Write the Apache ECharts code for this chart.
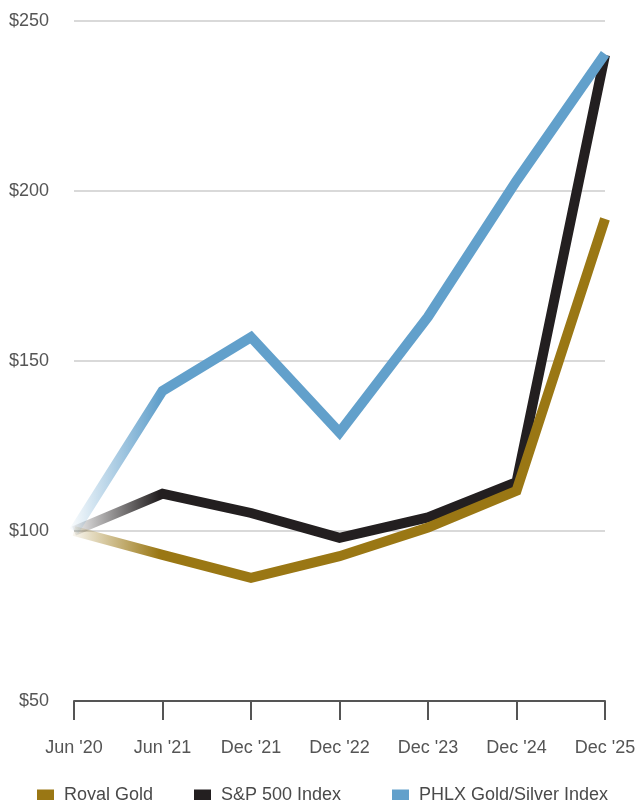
<!DOCTYPE html>
<html>
<head>
<meta charset="utf-8">
<script src="https://cdn.jsdelivr.net/npm/echarts@6/dist/echarts.min.js"></script>
<style>
  html, body { margin: 0; padding: 0; background: #fff; }
  #chart { width: 635px; height: 800px; }
</style>
</head>
<body>
<div id="chart"></div>
<script>
// Growth of a $100 investment
const periods = ["Jun '20", "Jun '21", "Dec '21", "Dec '22", "Dec '23", "Dec '24", "Dec '25"];
const royalGold = [100, 93, 86.2, 92.6, 101, 111.8, 191.8];
const sp500 = [100, 111, 105.3, 98, 104, 114.4, 240];
const phlx = [100, 141.2, 157, 129, 163, 203, 240.3];
const yTicks = { min: 50, max: 250, step: 50 };

const GOLD = '#9A7714';
const BLACK = '#231F20';
const BLUE = '#62A0CB';
const FONT = 'Liberation Sans, Arial, sans-serif';

// Each line fades in from near-white over its first segment
function fadeIn(hex) {
  const r = parseInt(hex.slice(1, 3), 16), g = parseInt(hex.slice(3, 5), 16), b = parseInt(hex.slice(5, 7), 16);
  return new echarts.graphic.LinearGradient(0, 0, 1, 0, [
    { offset: 0, color: `rgba(${r},${g},${b},0.02)` },
    { offset: 1 / 6, color: hex },
    { offset: 1, color: hex }
  ]);
}

function lineSeries(name, data, color, z) {
  return {
    name, type: 'line', data, z,
    showSymbol: false, symbol: 'none', clip: false,
    itemStyle: { color },
    lineStyle: { width: 10, color: fadeIn(color), cap: 'butt', join: 'miter' }
  };
}

function legendAt(left, name) {
  return {
    data: [name], left, top: 786, padding: 0,
    icon: 'rect', itemWidth: 17, itemHeight: 11,
    textStyle: { fontFamily: FONT, fontSize: 18, color: '#4a4a4a', padding: [0, 0, 0, 5] },
    selectedMode: false
  };
}

const chart = echarts.init(document.getElementById('chart'), null, { renderer: 'canvas' });
chart.setOption({
  animation: false,
  backgroundColor: '#fff',
  grid: { left: 74, right: 30, top: 21, bottom: 99, containLabel: false, outerBoundsMode: 'none' },
  legend: [
    legendAt(37, 'Royal Gold'),
    legendAt(194, 'S&P 500 Index'),
    legendAt(392, 'PHLX Gold/Silver Index')
  ],
  xAxis: {
    type: 'category', data: periods, boundaryGap: false,
    axisLine: { lineStyle: { color: '#555', width: 2 } },
    axisTick: { show: true, length: 19, lineStyle: { color: '#555', width: 2 } },
    axisLabel: { fontFamily: FONT, fontSize: 18, color: '#555', margin: 38 },
    splitLine: { show: false }
  },
  yAxis: {
    type: 'value', min: yTicks.min, max: yTicks.max, interval: yTicks.step,
    axisLine: { show: false }, axisTick: { show: false },
    axisLabel: { fontFamily: FONT, fontSize: 18, color: '#555', margin: 25, formatter: v => '$' + v },
    splitLine: { lineStyle: { color: '#d9d9d9', width: 2 } }
  },
  series: [
    lineSeries('S&P 500 Index', sp500, BLACK, 2),
    lineSeries('Royal Gold', royalGold, GOLD, 3),
    lineSeries('PHLX Gold/Silver Index', phlx, BLUE, 4)
  ]
});
</script>
</body>
</html>
